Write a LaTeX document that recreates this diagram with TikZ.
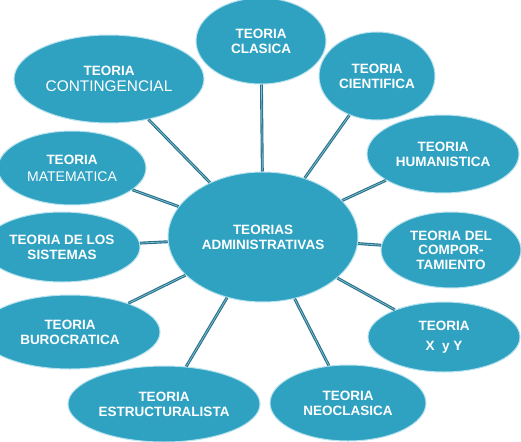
\documentclass[tikz,border=0pt]{standalone}
\usepackage{fontspec}
\setmainfont{Liberation Sans}
\usetikzlibrary{shapes.geometric}

\definecolor{teoriafill}{HTML}{2FA2C2}
\definecolor{teoriaedge}{HTML}{B8E2EE}
\definecolor{linkdark}{HTML}{2A7088}
\definecolor{linklight}{HTML}{7CC3D6}

\tikzset{
  teoria/.style={ellipse, fill=teoriafill, draw=teoriaedge, line width=1pt,
    text=white, align=center, inner sep=0pt,
    font=\fontsize{13.5}{15}\selectfont\bfseries},
  link/.style={draw=linkdark, line width=1.1pt, double=linklight, double distance=0.7pt}
}

\begin{document}
\begin{tikzpicture}[x=1pt,y=-1pt]
    \clip (0,0) rectangle (521,441);
    \fill[white] (0,0) rectangle (521,441);

\node[teoria, minimum width=190pt, minimum height=130pt] (centro) at (263,237) {TEORIAS\\ADMINISTRATIVAS};

\node[teoria, minimum width=130pt, minimum height=86pt] (clasica) at (261,41) {TEORIA\\CLASICA};
\node[teoria, minimum width=116pt, minimum height=88pt] (cientifica) at (377,76) {TEORIA\\CIENTIFICA};
\node[teoria, minimum width=152pt, minimum height=78pt] (humanistica) at (443,154) {TEORIA\\HUMANISTICA};
\node[teoria, minimum width=140pt, minimum height=76pt, font=\fontsize{13.5}{14.5}\selectfont\bfseries] (comportamiento) at (451,250) {TEORIA DEL\\COMPOR-\\TAMIENTO};
\node[teoria, minimum width=152pt, minimum height=70pt, font=\fontsize{13.5}{20}\selectfont\bfseries] (xyy) at (444,337) {TEORIA\\X\ \ y Y};
\node[teoria, minimum width=156pt, minimum height=76pt] (neoclasica) at (348,403) {TEORIA\\NEOCLASICA};
\node[teoria, minimum width=192pt, minimum height=76pt] (estructuralista) at (164,404) {TEORIA\\ESTRUCTURALISTA};
\node[teoria, minimum width=180pt, minimum height=74pt] (burocratica) at (70,332) {TEORIA\\BUROCRATICA};
\node[teoria, minimum width=156pt, minimum height=70pt] (sistemas) at (62,247) {TEORIA DE LOS\\SISTEMAS};
\node[teoria, minimum width=148pt, minimum height=74pt] (matematica) at (72,168) {TEORIA\\[2pt]{\mdseries\fontsize{14}{16}\selectfont MATEMATICA}};
\node[teoria, minimum width=190pt, minimum height=88pt] (contingencial) at (109,79) {TEORIA\\[1pt]{\mdseries\fontsize{15.4}{17}\selectfont CONTINGENCIAL}};

%    \draw[link] (centro) -- (centro);
\foreach \t in {clasica,cientifica,humanistica,comportamiento,xyy,neoclasica,estructuralista,burocratica,sistemas,matematica,contingencial}
    \draw[link] (centro) -- (\t);

\end{tikzpicture}
\end{document}
